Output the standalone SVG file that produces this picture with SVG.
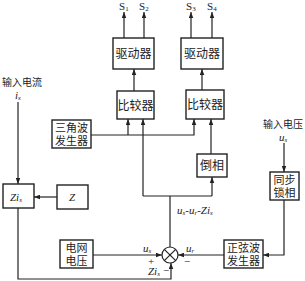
<svg xmlns="http://www.w3.org/2000/svg" width="305" height="281" viewBox="0 0 305 281">
<style>
.box{fill:#fff;stroke:#222;stroke-width:1.4}
.ln{fill:none;stroke:#222;stroke-width:1.2}
.cn{font-family:"Noto Sans CJK SC","Noto Sans CJK JP",serif;font-size:12px;fill:#222;text-anchor:middle}
.c2{font-family:"Noto Sans CJK SC","Noto Sans CJK JP",serif;font-size:11px;fill:#222;text-anchor:middle}
.lb{font-family:"Noto Sans CJK SC","Noto Sans CJK JP",serif;font-size:10px;fill:#222;text-anchor:middle}
.it{font-family:"Liberation Serif",serif;font-style:italic;font-size:11px;fill:#222}
.sub{font-size:7px}
.rm{font-family:"Liberation Serif",serif;font-size:11px;fill:#222}
</style>
<defs>
<marker id="ar" viewBox="0 0 8 6" refX="8" refY="3" markerWidth="6" markerHeight="5" markerUnits="userSpaceOnUse" orient="auto">
<path d="M0,0 L8,3 L0,6 z" fill="#222"/>
</marker>
</defs>
<g id="connectors">
<line class="ln" x1="124" y1="38" x2="124" y2="12" marker-end="url(#ar)"/>
<line class="ln" x1="144" y1="38" x2="144" y2="12" marker-end="url(#ar)"/>
<line class="ln" x1="191" y1="38" x2="191" y2="12" marker-end="url(#ar)"/>
<line class="ln" x1="212" y1="38" x2="212" y2="12" marker-end="url(#ar)"/>
<line class="ln" x1="134" y1="91" x2="134" y2="69" marker-end="url(#ar)"/>
<line class="ln" x1="202" y1="90" x2="202" y2="69" marker-end="url(#ar)"/>
<polyline class="ln" points="91,135 194,135 194,119" marker-end="url(#ar)"/>
<line class="ln" x1="128" y1="135" x2="128" y2="119" marker-end="url(#ar)"/>
<line class="ln" x1="143" y1="196" x2="143" y2="119" marker-end="url(#ar)"/>
<line class="ln" x1="211" y1="154" x2="211" y2="119" marker-end="url(#ar)"/>
<line class="ln" x1="143" y1="196" x2="212" y2="196"/>
<line class="ln" x1="212" y1="196" x2="212" y2="177" marker-end="url(#ar)"/>
<line class="ln" x1="170" y1="247" x2="170" y2="196"/>
<line class="ln" x1="18" y1="102" x2="18" y2="184" marker-end="url(#ar)"/>
<line class="ln" x1="57" y1="197" x2="34" y2="197" marker-end="url(#ar)"/>
<polyline class="ln" points="18,208 18,279 171,279 171,263" marker-end="url(#ar)"/>
<line class="ln" x1="93" y1="255" x2="162" y2="255" marker-end="url(#ar)"/>
<line class="ln" x1="224" y1="255" x2="178" y2="255" marker-end="url(#ar)"/>
<line class="ln" x1="284" y1="143" x2="284" y2="172" marker-end="url(#ar)"/>
<polyline class="ln" points="284,200 284,255 263,255" marker-end="url(#ar)"/>
</g>
<g id="S-labels">
<text class="rm" x="119" y="10">S<tspan class="sub" dy="1">1</tspan></text>
<text class="rm" x="139" y="10">S<tspan class="sub" dy="1">2</tspan></text>
<text class="rm" x="186" y="10">S<tspan class="sub" dy="1">3</tspan></text>
<text class="rm" x="207" y="10">S<tspan class="sub" dy="1">4</tspan></text>
</g>
<g id="driver1"><rect class="box" x="113" y="38" width="41" height="31"/><text class="cn" x="133.5" y="58">驱动器</text></g>
<g id="driver2"><rect class="box" x="181" y="38" width="42" height="31"/><text class="cn" x="202" y="58">驱动器</text></g>
<g id="comp1"><rect class="box" x="117" y="91" width="37" height="28"/><text class="cn" x="135.5" y="109.5">比较器</text></g>
<g id="comp2"><rect class="box" x="186" y="90" width="38" height="29"/><text class="cn" x="205" y="109">比较器</text></g>
<g id="tri"><rect class="box" x="52" y="120" width="39" height="28"/><text class="c2" x="71.5" y="132"><tspan x="71.5">三角波</tspan><tspan x="71.5" dy="13">发生器</tspan></text></g>
<g id="inv"><rect class="box" x="197" y="154" width="30" height="23"/><text class="cn" x="212" y="170">倒相</text></g>
<g id="pll"><rect class="box" x="270" y="172" width="29" height="28"/><text class="c2" x="284.5" y="184"><tspan x="284.5">同步</tspan><tspan x="284.5" dy="13">锁相</tspan></text></g>
<g id="zis"><rect class="box" x="3" y="184" width="31" height="24"/><text class="it" x="10" y="201">Zi<tspan class="sub" dy="1">s</tspan></text></g>
<g id="z"><rect class="box" x="57" y="185" width="31" height="24"/><text class="it" x="69" y="201">Z</text></g>
<g id="grid"><rect class="box" x="60" y="240" width="33" height="28"/><text class="c2" x="76.5" y="252"><tspan x="76.5">电网</tspan><tspan x="76.5" dy="13">电压</tspan></text></g>
<g id="sine"><rect class="box" x="224" y="240" width="39" height="28"/><text class="c2" x="243.5" y="252"><tspan x="243.5">正弦波</tspan><tspan x="243.5" dy="13">发生器</tspan></text></g>
<g id="sum">
<circle class="ln" cx="170" cy="255" r="8" style="fill:#fff"/>
<line class="ln" x1="164.3" y1="249.3" x2="175.7" y2="260.7"/>
<line class="ln" x1="175.7" y1="249.3" x2="164.3" y2="260.7"/>
</g>
<g id="labels">
<text class="lb" x="22" y="86">输入电流</text>
<text class="it" x="15" y="99">i<tspan class="sub" dy="1">s</tspan></text>
<text class="lb" x="283" y="128">输入电压</text>
<text class="it" x="279" y="141">u<tspan class="sub" dy="1">s</tspan></text>
<text class="it" x="177" y="214">u<tspan class="sub" dy="1">s</tspan><tspan dy="-1">-u</tspan><tspan class="sub" dy="1">r</tspan><tspan dy="-1">-Zi</tspan><tspan class="sub" dy="1">s</tspan></text>
<text class="it" x="143" y="252">u<tspan class="sub" dy="1">s</tspan></text>
<text class="rm" x="148" y="265">+</text>
<text class="it" x="186" y="252">u<tspan class="sub" dy="1">r</tspan></text>
<text class="rm" x="184" y="265">−</text>
<text class="it" x="148" y="275">Zi<tspan class="sub" dy="1">s</tspan></text>
<text class="rm" x="163" y="274">−</text>
</g>
</svg>
